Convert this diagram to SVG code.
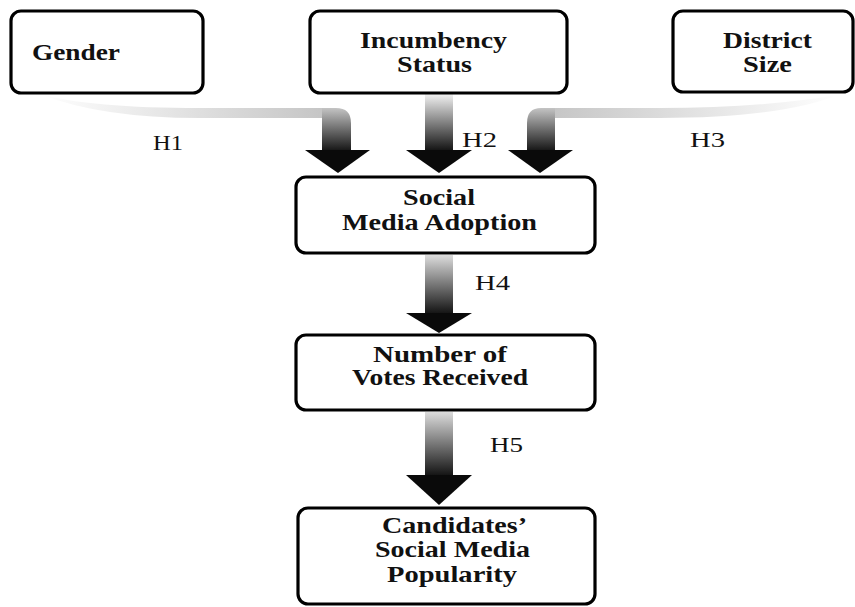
<svg xmlns="http://www.w3.org/2000/svg" width="855" height="607" viewBox="0 0 855 607">
<style>
.box{fill:#fff;stroke:#000;stroke-width:3.2}
.t{font-family:"Liberation Serif","Times New Roman",serif;font-weight:bold;font-size:23px;fill:#111}
.h{font-family:"Liberation Serif","Times New Roman",serif;font-size:22px;fill:#111}
.head{fill:#0a0a0a}
</style>
<defs>
<linearGradient id="gB1" gradientUnits="userSpaceOnUse" x1="40" y1="0" x2="330" y2="0"><stop offset="0" stop-color="#ffffff"/><stop offset="1" stop-color="#c4c4c4"/></linearGradient>
<linearGradient id="gB3" gradientUnits="userSpaceOnUse" x1="838" y1="0" x2="545" y2="0"><stop offset="0" stop-color="#ffffff"/><stop offset="1" stop-color="#c4c4c4"/></linearGradient>
<linearGradient id="gS1" gradientUnits="userSpaceOnUse" x1="0" y1="108" x2="0" y2="151"><stop offset="0" stop-color="#c4c4c4"/><stop offset="1" stop-color="#151515"/></linearGradient>
<linearGradient id="gS2" gradientUnits="userSpaceOnUse" x1="0" y1="94" x2="0" y2="151"><stop offset="0" stop-color="#f2f2f2"/><stop offset="1" stop-color="#121212"/></linearGradient>
<linearGradient id="gS4" gradientUnits="userSpaceOnUse" x1="0" y1="255" x2="0" y2="314"><stop offset="0" stop-color="#dcdcdc"/><stop offset="1" stop-color="#121212"/></linearGradient>
<linearGradient id="gS5" gradientUnits="userSpaceOnUse" x1="0" y1="412" x2="0" y2="476"><stop offset="0" stop-color="#dcdcdc"/><stop offset="1" stop-color="#121212"/></linearGradient>
</defs>

<g id="connectors">
  <g id="H1-arrow">
    <path d="M40 94 Q90 108 200 108 L323 108 L323 118 L200 118 Q100 118 40 94 Z" fill="url(#gB1)"/>
    <path d="M322 108 L336 108 Q351 108 351 123 L351 151 L322 151 Z" fill="url(#gS1)"/>
    <polygon class="head" points="305,150 370,150 338,173"/>
  </g>
  <g id="H2-arrow">
    <rect x="425" y="94" width="28" height="57" fill="url(#gS2)"/>
    <polygon class="head" points="406,150 472,150 439,173"/>
  </g>
  <g id="H3-arrow">
    <path d="M838 95 Q780 118 660 118 L554 118 L554 108 L660 108 Q760 108 838 95 Z" fill="url(#gB3)"/>
    <path d="M555 108 L541 108 Q527 108 527 123 L527 151 L555 151 Z" fill="url(#gS1)"/>
    <polygon class="head" points="508,150 573,150 540,173"/>
  </g>
  <g id="H4-arrow">
    <rect x="425" y="255" width="28" height="59" fill="url(#gS4)"/>
    <polygon class="head" points="406,313 472,313 439,333"/>
  </g>
  <g id="H5-arrow">
    <rect x="425" y="412" width="28" height="64" fill="url(#gS5)"/>
    <polygon class="head" points="406,475 472,475 439,505"/>
  </g>
  <text class="h" x="153" y="150" textLength="30" lengthAdjust="spacingAndGlyphs">H1</text>
  <text class="h" x="462" y="147" textLength="35" lengthAdjust="spacingAndGlyphs">H2</text>
  <text class="h" x="690" y="147" textLength="35" lengthAdjust="spacingAndGlyphs">H3</text>
  <text class="h" x="475" y="290" textLength="35" lengthAdjust="spacingAndGlyphs">H4</text>
  <text class="h" x="490" y="452" textLength="33" lengthAdjust="spacingAndGlyphs">H5</text>
</g>

<g id="gender">
  <rect class="box" x="11" y="11" width="192" height="82" rx="10"/>
  <text class="t" x="32" y="60" textLength="88" lengthAdjust="spacingAndGlyphs">Gender</text>
</g>
<g id="incumbency">
  <rect class="box" x="310" y="11" width="257" height="82" rx="10"/>
  <text class="t" x="360" y="48" textLength="147" lengthAdjust="spacingAndGlyphs">Incumbency</text>
  <text class="t" x="397" y="72" textLength="75" lengthAdjust="spacingAndGlyphs">Status</text>
</g>
<g id="district">
  <rect class="box" x="673" y="11" width="180" height="81" rx="10"/>
  <text class="t" x="723" y="48" textLength="89" lengthAdjust="spacingAndGlyphs">District</text>
  <text class="t" x="743" y="72" textLength="49" lengthAdjust="spacingAndGlyphs">Size</text>
</g>
<g id="adoption">
  <rect class="box" x="296" y="177" width="299" height="76" rx="10"/>
  <text class="t" x="403" y="205" textLength="72" lengthAdjust="spacingAndGlyphs">Social</text>
  <text class="t" x="342" y="230" textLength="195" lengthAdjust="spacingAndGlyphs">Media Adoption</text>
</g>
<g id="votes">
  <rect class="box" x="296" y="335" width="299" height="75" rx="10"/>
  <text class="t" x="373" y="362" textLength="134" lengthAdjust="spacingAndGlyphs">Number of</text>
  <text class="t" x="352" y="385" textLength="176" lengthAdjust="spacingAndGlyphs">Votes Received</text>
</g>
<g id="popularity">
  <rect class="box" x="298" y="508" width="297" height="96" rx="10"/>
  <text class="t" x="382" y="533" textLength="145" lengthAdjust="spacingAndGlyphs">Candidates’</text>
  <text class="t" x="375" y="557" textLength="155" lengthAdjust="spacingAndGlyphs">Social Media</text>
  <text class="t" x="387" y="582" textLength="130" lengthAdjust="spacingAndGlyphs">Popularity</text>
</g>
</svg>
